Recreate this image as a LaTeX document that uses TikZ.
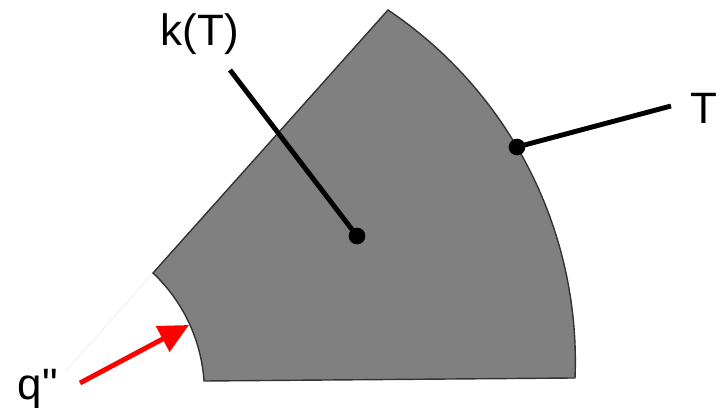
\documentclass[tikz,border=0pt]{standalone}
\usepackage{fontspec}
\setmainfont{Liberation Sans}
\newfontfamily\plainsans{Liberation Sans}
\usetikzlibrary{arrows.meta}
\definecolor{wallgray}{RGB}{128,128,128}
\tikzset{
  wall/.style={fill=wallgray, draw=black!80, line width=0.8pt, line join=miter},
  dotnode/.style={circle, fill=black, inner sep=0pt, minimum size=9.5pt},
  leader/.style={line width=2.8pt, black},
  flux/.style={line width=2.8pt, red, -{Triangle[length=17pt,width=16pt]}},
  lbl/.style={font=\fontsize{25}{30}\selectfont, inner sep=0pt, anchor=base},
}
\begin{document}
\begin{tikzpicture}[x=0.02cm, y=0.02cm]
\useasboundingbox (0,0) rectangle (721,407);
% faint extension line
\coordinate (faintA) at (65,35);
\coordinate (innerTop) at (153,134);
\draw[black!8, line width=0.4pt] (faintA) -- (innerTop);
% wall section
\coordinate (outerTop) at (388,397);
\coordinate (innerBot) at (204,26);
\draw[wall] (innerTop) -- (outerTop)
  arc[start angle=56.13, end angle=-2.25, radius=423.2]
  -- (innerBot)
  arc[start angle=3.89, end angle=46.65, radius=163.8] -- cycle;
% k(T)
\node[dotnode] (kdot) at (357,171) {};
\coordinate (kend) at (230,337);
\draw[leader] (kend) -- (kdot.center);
\node[lbl] (klabel) at (200,362) {k(T)};
% T
\node[dotnode] (tdot) at (517,260) {};
\coordinate (tend) at (671,301);
\draw[leader] (tdot.center) -- (tend);
\node[lbl] (tlabel) at (704,284) {T};
% q''
\coordinate (qstart) at (80,24);
\coordinate (qtip) at (189,82);
\draw[flux] (qstart) -- (qtip);
\node[lbl] (qlabel) at (38,8) {\plainsans q"};
\end{tikzpicture}
\end{document}
